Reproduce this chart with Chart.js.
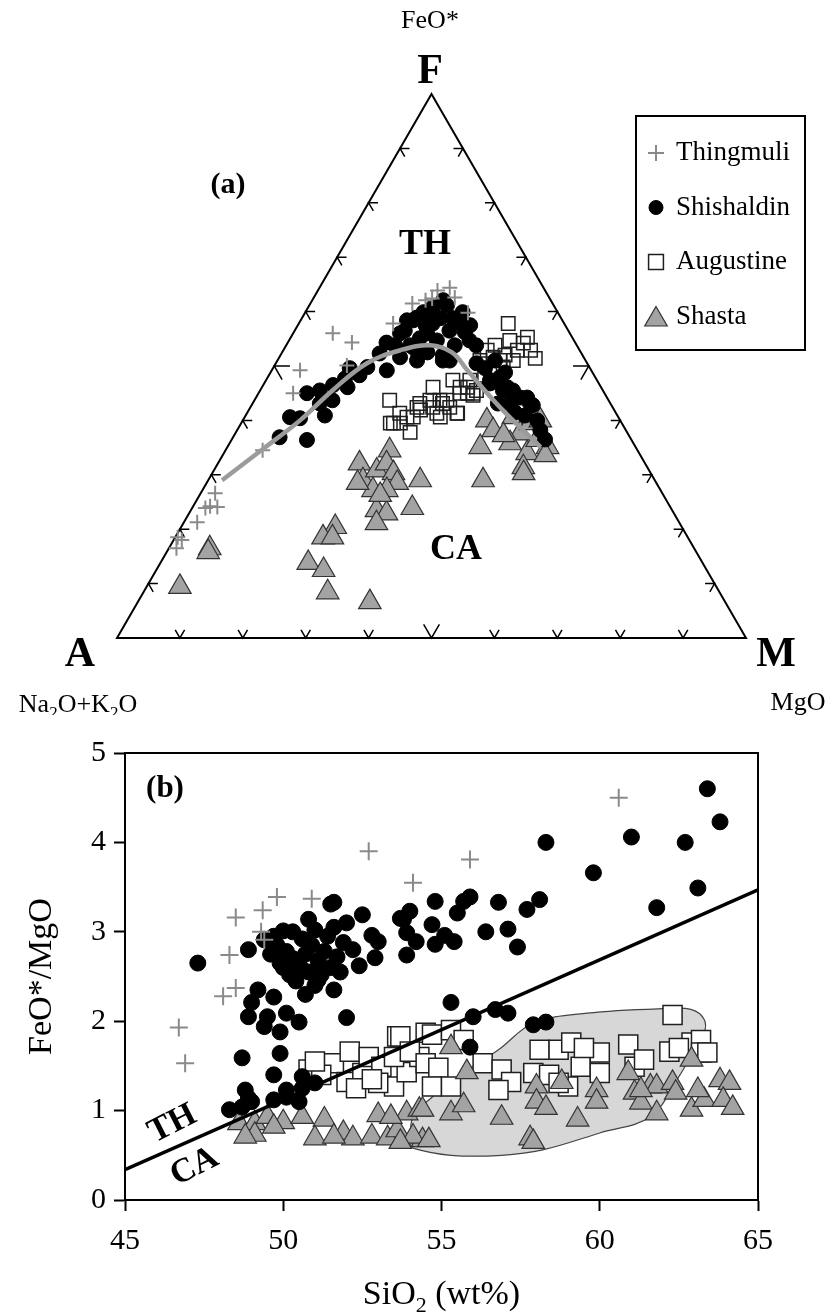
<!DOCTYPE html>
<html>
<head>
<meta charset="utf-8">
<script src="https://cdn.jsdelivr.net/npm/chart.js@4.4.0/dist/chart.umd.min.js"></script>
<style>
  html, body { margin: 0; padding: 0; background: #fff; }
  #wrap { position: relative; width: 836px; height: 1313px; }
  #afm-box { position: absolute; left: 0; top: 0; width: 836px; height: 715px; }
  #ratio-box { position: absolute; left: 0; top: 715px; width: 836px; height: 598px; }
</style>
</head>
<body>
<div id="wrap">
  <div id="afm-box"><canvas id="afm"></canvas></div>
  <div id="ratio-box"><canvas id="ratio"></canvas></div>
</div>
<script>
// (a) AFM compositions as [FeO*, MgO] in percent, Na2O+K2O is the remainder
const afmThingmuli = [
  [61.5,16.2],[62.4,18.9],[63.9,19.0],[64.4,20.7],[62.6,22.4],[59.8,25.9],[57.8,15.0],[56.0,6.3],
  [54.3,10.2],[49.2,4.5],[50.1,11.5],[45.0,5.5],[34.5,5.9],[26.6,2.3],[23.9,2.1],[24.2,2.7],
  [24.1,3.9],[21.3,2.1],[18.5,0.4],[18.0,1.3],[16.5,1.2],[62.1,18.0]
];
const afmShishaldin = [
  [36.9,7.4],[36.4,12.0],[40.6,7.2],[45.0,7.7],[45.5,9.5],[46.5,11.1],[43.1,10.7],[43.7,12.4],
  [40.9,12.6],[46.1,13.6],[49.6,12.2],[49.8,14.9],[52.3,15.6],[49.2,18.3],[54.3,15.7],[56.0,17.0],
  [58.4,16.9],[58.9,18.2],[51.0,22.2],[51.6,19.2],[53.4,20.4],[56.0,21.3],[57.8,21.3],[60.8,19.8],
  [62.1,20.8],[51.0,26.3],[40.4,8.9],[47.7,12.4],[48.3,14.4],[53.8,17.3],
  [56.5,17.5],[58.4,17.9],[59.9,18.8],[61.1,21.9],[58.8,24.0],[58.0,25.5],[56.2,27.2],[54.7,28.7],
  [53.8,19.7],[52.0,21.9],[52.5,23.1],[52.0,25.8],[51.0,27.4],[53.8,26.8],[54.7,23.5],[57.5,20.3],
  [58.8,22.0],[56.5,24.6],[59.3,20.1],[55.1,20.6],[59.9,25.0],[57.5,27.4],[53.8,30.2],
  [50.5,31.9],[47.4,35.6],[47.9,36.9],[45.5,38.6],[45.5,40.2],[44.2,41.5],[43.1,40.9],[44.2,43.1],
  [43.1,44.1],[43.1,39.0],[46.8,35.9],[46.1,39.0],[44.2,42.0],[42.8,44.7],[40.0,46.8],[40.9,44.4],
  [38.2,48.2],[41.5,42.5],[49.6,33.7],[51.0,34.6],[48.8,37.3],[36.5,49.8]
];
const afmAugustine = [
  [57.8,33.3],[55.3,37.6],[54.2,37.5],[51.4,40.8],[52.9,37.2],[51.0,37.5],[52.9,32.4],[51.6,34.0],
  [51.0,35.4],[49.8,36.5],[51.0,32.2],[45.5,34.4],[44.6,34.3],[45.0,33.2],[46.1,27.2],[46.1,31.5],
  [43.7,29.5],[42.4,29.0],[42.4,31.7],[41.3,33.5],[41.9,27.3],[40.6,26.8],[40.6,25.8],[39.5,25.3],
  [37.8,27.7],[40.6,31.1],[43.7,21.5],[39.5,24.2],[43.1,26.6],[43.1,30.2],[39.5,23.7],[41.3,24.3],
  [42.4,26.5],[43.7,27.9],[41.3,30.2],[43.7,30.6],[41.3,33.4],[45.0,32.0],[47.4,29.7],[46.1,32.7],
  [45.0,34.1],[54.7,35.1],[52.9,39.3],[53.8,33.2],[52.0,35.7],[48.3,34.3],[47.4,32.4]
];
const afmShasta = [
  [40.0,38.8],[38.2,40.7],[35.1,40.2],[40.6,42.7],[37.6,45.3],[39.5,46.0],[40.0,47.3],[35.1,50.9],
  [34.0,48.2],[31.4,48.9],[30.3,49.5],[35.8,44.6],[29.0,43.7],[36.4,48.6],[33.6,51.3],[37.3,42.8],
  [34.5,26.1],[32.1,22.5],[29.0,24.6],[30.8,25.9],[32.1,26.8],[30.3,28.8],[28.5,30.3],[27.2,29.3],
  [27.2,27.1],[23.5,29.5],[22.9,31.4],[21.1,30.7],[29.0,33.7],[23.9,35.0],[28.5,24.0],[26.3,28.7],
  [20.4,24.5],[18.5,23.5],[18.5,25.0],[13.8,23.5],[12.5,26.6],[8.4,29.3],[6.6,36.9],
  [16.5,6.5],[15.8,6.6],[9.4,5.3]
];
// tholeiitic / calc-alkaline boundary curve on the AFM plot
const afmBoundary = [
  [29.0,2.2],[34.7,5.8],[40.0,9.1],[45.5,11.5],[50.5,14.5],[52.9,18.6],[53.8,22.9],[52.5,27.0],
  [49.2,31.1],[42.4,39.7],[35.1,49.8]
];

// (b) [SiO2 wt%, FeO*/MgO]
const sioThingmuli = [
  [52.7,3.90],[54.1,3.55],[49.8,3.39],[50.9,3.37],[49.35,3.24],[48.5,3.16],[49.3,3.00],[49.4,2.91],
  [48.3,2.74],[60.6,4.50],[55.9,3.81],[48.5,2.37],[48.1,2.28],[46.7,1.93],[46.9,1.53]
];
const sioShishaldin = [
  [47.3,2.65],[48.9,2.80],[50.0,3.01],[50.8,3.14],[51.5,3.31],[51.6,3.33],[52.5,3.19],[52.0,3.10],
  [52.8,2.96],[53.0,2.89],[52.9,2.71],[53.7,3.15],[54.0,3.23],[53.9,2.99],[54.2,2.89],[53.9,2.74],
  [49.4,2.91],[49.7,2.95],
  [58.3,4.00],[59.8,3.66],[61.0,4.06],[63.4,4.60],[63.8,4.23],[62.7,4.00],[63.1,3.49],[61.8,3.27],
  [58.1,3.36],[57.7,3.25],[56.8,3.33],[55.9,3.39],[55.7,3.34],[55.5,3.21],[54.8,3.34],[54.7,3.08],
  [53.8,3.14],[54.8,2.86],[55.1,2.96],[55.4,2.89],[56.4,3.00],[57.1,3.03],[57.4,2.83],
  [49.8,2.85],[50.1,2.78],[50.3,2.70],[50.5,2.62],[50.7,2.75],[50.9,2.85],[51.1,2.68],[51.3,2.78],
  [51.5,2.60],[51.7,2.72],[51.9,2.88],[50.2,2.52],[50.4,2.45],[50.8,2.55],[51.0,2.40],[51.2,2.52],
  [51.4,2.95],[50.6,2.92],[51.8,2.55],[52.2,2.80],[50.0,2.60],[49.6,2.75],[50.3,3.00],[51.0,3.02],
  [51.6,3.05],[52.4,2.62],[50.7,2.30],
  [49.9,2.65],[50.6,2.58],[51.1,2.46],[51.6,2.35],[52.0,2.04],[49.2,2.35],[49.0,2.21],[48.9,2.05],
  [49.4,1.94],[49.9,1.88],[50.5,1.99],[50.1,2.09],[49.7,2.27],[49.5,2.05],[48.7,1.59],[49.9,1.64],
  [49.7,1.40],[50.6,1.38],[51.0,1.31],[48.8,1.23],[48.9,1.14],[48.3,1.01],[48.7,1.04],[49.7,1.12],
  [50.1,1.15],[50.5,1.10],[50.6,1.25],[50.1,1.23],[49.0,1.10],
  [55.3,2.21],[56.0,2.05],[56.7,2.13],[57.1,2.09],[57.9,1.96],[58.3,1.99],[55.9,1.71]
];
const sioAugustine = [
  [50.8,1.46],[51.6,1.53],[52.1,1.66],[52.0,1.32],[52.5,1.42],[52.7,1.60],[53.1,1.49],[53.5,1.27],
  [53.6,1.83],[53.9,1.43],[54.3,1.60],[54.5,1.87],[53.5,1.60],[53.0,1.31],[53.7,1.83],[54.7,1.85],
  [55.3,1.90],[55.7,1.79],[54.0,1.66],[54.5,1.53],[54.9,1.48],[54.7,1.27],[55.3,1.27],[56.3,1.53],
  [56.9,1.46],[57.2,1.32],[56.8,1.23],[58.1,1.68],[58.7,1.68],[59.1,1.76],[57.9,1.42],[58.4,1.40],
  [59.0,1.27],[59.4,1.49],[60.0,1.65],[60.0,1.42],[60.9,1.74],[61.1,1.49],[61.4,1.57],[62.3,2.07],
  [62.2,1.66],[62.9,1.76],[63.2,1.79],[63.2,1.65],[63.4,1.65],[62.5,1.70],[58.7,1.31],[59.5,1.70],
  [51.2,1.40],[52.3,1.25],[51.0,1.55],[52.8,1.35]
];
const sioShasta = [
  [48.6,0.86],[49.1,0.86],[49.1,0.73],[49.5,0.93],[50.0,0.87],[50.6,0.93],[51.3,0.90],[51.0,0.69],
  [51.9,0.75],[52.2,0.69],[53.0,0.95],[52.8,0.71],[53.3,0.69],[53.9,0.97],[54.3,1.01],[53.6,0.78],
  [51.6,0.71],[48.8,0.71],[49.7,0.82],[53.4,0.93],[54.4,0.67],[54.1,0.71],[53.7,0.65],
  [55.3,1.71],[55.8,1.43],[54.4,1.01],[54.6,0.67],[55.3,0.97],[55.7,1.06],[56.9,0.92],[58.0,1.27],
  [58.0,1.10],[58.3,1.03],[57.8,0.69],[57.9,0.65],[58.8,1.32],[59.3,0.90],[59.9,1.23],[59.9,1.10],
  [60.9,1.42],[61.1,1.20],[61.3,1.09],[61.6,1.27],[61.8,1.27],[61.8,0.97],[62.3,1.31],[62.4,1.20],
  [62.9,1.57],[62.9,1.01],[63.3,1.12],[63.8,1.34],[64.1,1.31],[63.9,1.12],[64.2,1.03],[61.3,1.23],
  [63.1,1.23]
];
// shaded field outline (closed)
const shastaField = [
  [54.0,0.64],[54.1,0.93],[54.7,1.15],[55.6,1.40],[56.8,1.68],[57.9,1.98],[59.6,2.09],[62.0,2.14],
  [62.9,2.13],[63.3,2.02],[63.3,1.87],[62.9,1.62],[62.5,1.38],[61.6,0.93],[60.0,0.75],[58.2,0.56],
  [56.9,0.50],[55.3,0.50],[54.1,0.58],[54.0,0.64]
];
// TH / CA dividing line
const thCaLine = [[45, 0.34], [65, 3.47]];

const xTicks = [45, 50, 55, 60, 65];
const yTicks = [0, 1, 2, 3, 4, 5];
const seriesNames = ['Thingmuli', 'Shishaldin', 'Augustine', 'Shasta'];

const SIN60 = Math.sqrt(3) / 2;
const serif = '"Liberation Serif", "Times New Roman", serif';

const marks = {
  Thingmuli: { pointStyle: 'cross', borderColor: '#8a8a8a', backgroundColor: '#8a8a8a', borderWidth: 2 },
  Shishaldin: { pointStyle: 'circle', borderColor: '#000', backgroundColor: '#000', borderWidth: 1 },
  Augustine: { pointStyle: 'rect', borderColor: '#1f1f1f', backgroundColor: '#fff', borderWidth: 1.5 },
  Shasta: { pointStyle: 'triangle', borderColor: '#333', backgroundColor: '#a3a3a3', borderWidth: 1.2 }
};

function toXY(p) { return { x: (p[1] + p[0] / 2) / 100, y: p[0] / 100 * SIN60 }; }
function toPt(p) { return { x: p[0], y: p[1] }; }

function pointSet(name, data, radius, extra) {
  const m = marks[name];
  return Object.assign({
    label: name,
    data: data,
    pointStyle: m.pointStyle,
    pointRadius: radius,
    pointBorderColor: m.borderColor,
    pointBackgroundColor: m.backgroundColor,
    pointBorderWidth: m.borderWidth,
    showLine: false,
    clip: false
  }, extra || {});
}

function text(ctx, str, x, y, font, align) {
  ctx.font = font;
  ctx.fillStyle = '#000';
  ctx.textAlign = align || 'center';
  ctx.textBaseline = 'middle';
  ctx.fillText(str, x, y);
}

// draws text with subscript parts, centred on cx, baseline at by
function subText(ctx, parts, cx, by, size) {
  const base = size + 'px ' + serif;
  const small = Math.round(size * 0.66) + 'px ' + serif;
  let w = 0;
  parts.forEach(p => { ctx.font = p[1] ? small : base; w += ctx.measureText(p[0]).width; });
  let x = cx - w / 2;
  ctx.fillStyle = '#000';
  ctx.textAlign = 'left';
  ctx.textBaseline = 'alphabetic';
  parts.forEach(p => {
    ctx.font = p[1] ? small : base;
    ctx.fillText(p[0], x, by + (p[1] ? size * 0.24 : 0));
    x += ctx.measureText(p[0]).width;
  });
}

function drawMark(ctx, name, radius, x, y) {
  const m = marks[name];
  ctx.save();
  ctx.fillStyle = m.backgroundColor;
  ctx.strokeStyle = m.borderColor;
  ctx.lineWidth = m.borderWidth;
  Chart.helpers.drawPoint(ctx, { pointStyle: m.pointStyle, radius: radius, rotation: 0, borderWidth: m.borderWidth }, x, y);
  ctx.restore();
}

// triangle outline with chevron ticks every 10 %
const afmFrame = {
  id: 'afmFrame',
  beforeDatasetsDraw(chart) {
    const { ctx, scales: { x, y } } = chart;
    const P = (u, v) => [x.getPixelForValue(u), y.getPixelForValue(v)];
    ctx.save();
    ctx.strokeStyle = '#000';
    ctx.lineWidth = 2;
    ctx.beginPath();
    ctx.moveTo(...P(0, 0));
    ctx.lineTo(...P(1, 0));
    ctx.lineTo(...P(0.5, SIN60));
    ctx.closePath();
    ctx.stroke();

    ctx.lineWidth = 1.5;
    const chevron = (u, v, d1, d2, len) => {
      ctx.beginPath();
      ctx.moveTo(...P(u + d1[0] * len, v + d1[1] * len));
      ctx.lineTo(...P(u, v));
      ctx.lineTo(...P(u + d2[0] * len, v + d2[1] * len));
      ctx.stroke();
    };
    for (let i = 1; i < 10; i++) {
      const t = i / 10;
      const len = i === 5 ? 0.025 : 0.015;
      chevron(t, 0, [-0.5, SIN60], [0.5, SIN60], len);
      chevron(t / 2, t * SIN60, [1, 0], [0.5, -SIN60], len);
      chevron(1 - t / 2, t * SIN60, [-1, 0], [-0.5, -SIN60], len);
    }
    ctx.restore();
  },
  afterDraw(chart) {
    const { ctx } = chart;
    ctx.save();
    text(ctx, 'FeO*', 430, 21, '26px ' + serif);
    text(ctx, 'F', 430, 72, 'bold 42px ' + serif);
    text(ctx, 'A', 80, 655, 'bold 42px ' + serif);
    text(ctx, 'M', 776, 655, 'bold 42px ' + serif);
    subText(ctx, [['Na'], ['2', true], ['O+K'], ['2', true], ['O']], 78, 712, 26);
    text(ctx, 'MgO', 798, 703, '26px ' + serif);
    text(ctx, '(a)', 228, 185, 'bold 30px ' + serif);
    text(ctx, 'TH', 425, 245, 'bold 36px ' + serif);
    text(ctx, 'CA', 456, 550, 'bold 36px ' + serif);

    // legend box
    ctx.strokeStyle = '#000';
    ctx.lineWidth = 2;
    ctx.strokeRect(636, 116, 169, 234);
    const sizes = { Thingmuli: 8, Shishaldin: 7, Augustine: 10.5, Shasta: 13 };
    seriesNames.forEach((name, i) => {
      const cy = 153 + i * 54.5;
      drawMark(ctx, name, sizes[name], 656, name === 'Shasta' ? cy + 3 : cy);
      text(ctx, name, 676, cy, '27px ' + serif, 'left');
    });
    ctx.restore();
  }
};

new Chart(document.getElementById('afm'), {
  type: 'scatter',
  data: {
    datasets: [
      { type: 'line', label: 'boundary', data: afmBoundary.map(toXY), borderColor: '#9b9b9b', borderWidth: 4.5,
        tension: 0.4, pointRadius: 0, fill: false, order: 0, clip: false },
      pointSet('Thingmuli', afmThingmuli.map(toXY), 7.5, { order: 1 }),
      pointSet('Shishaldin', afmShishaldin.map(toXY), 7.5, { order: 2 }),
      pointSet('Augustine', afmAugustine.map(toXY), 9.5, { order: 3, pointBackgroundColor: 'rgba(255,255,255,0)' }),
      pointSet('Shasta', afmShasta.map(toXY), 13, { order: 4 })
    ]
  },
  options: {
    responsive: true,
    maintainAspectRatio: false,
    animation: false,
    events: [],
    layout: { padding: { left: 117, right: 90, top: 94, bottom: 77 } },
    plugins: { legend: { display: false }, tooltip: { enabled: false } },
    scales: {
      x: { type: 'linear', min: 0, max: 1, display: false },
      y: { type: 'linear', min: 0, max: SIN60, display: false }
    }
  },
  plugins: [afmFrame]
});

// top/right frame plus panel labels for the ratio plot
const ratioFrame = {
  id: 'ratioFrame',
  afterDraw(chart) {
    const { ctx, chartArea: a, scales: { x, y } } = chart;
    ctx.save();
    ctx.strokeStyle = '#000';
    ctx.lineWidth = 2;
    ctx.beginPath();
    ctx.moveTo(a.left, a.top);
    ctx.lineTo(a.right, a.top);
    ctx.lineTo(a.right, a.bottom);
    ctx.stroke();
    text(ctx, '(b)', 165, 74, 'bold 31px ' + serif);
    const slanted = (str, u, v) => {
      ctx.save();
      ctx.translate(x.getPixelForValue(u), y.getPixelForValue(v));
      ctx.rotate(-0.47);
      text(ctx, str, 0, 0, 'bold 34px ' + serif);
      ctx.restore();
    };
    slanted('TH', 46.5, 0.85);
    slanted('CA', 47.2, 0.37);
    subText(ctx, [['SiO'], ['2', true], [' (wt%)']], (a.left + a.right) / 2, 589, 34);
    ctx.restore();
  }
};

const tickFont = { family: serif, size: 30 };

new Chart(document.getElementById('ratio'), {
  type: 'scatter',
  data: {
    datasets: [
      pointSet('Thingmuli', sioThingmuli.map(toPt), 9, { order: 0 }),
      pointSet('Shishaldin', sioShishaldin.map(toPt), 8, { order: 1 }),
      { type: 'line', label: 'TH-CA', data: thCaLine.map(toPt), borderColor: '#000', borderWidth: 3.5,
        pointRadius: 0, fill: false, order: 2 },
      pointSet('Shasta', sioShasta.map(toPt), 13, { order: 3 }),
      pointSet('Augustine', sioAugustine.map(toPt), 13.5, { order: 4 }),
      { type: 'line', label: 'field', data: shastaField.map(toPt), fill: 'shape', backgroundColor: '#d7d7d7',
        borderColor: '#444', borderWidth: 1.2, tension: 0.35, pointRadius: 0, order: 5 }
    ]
  },
  options: {
    responsive: true,
    maintainAspectRatio: false,
    animation: false,
    events: [],
    layout: { padding: { left: 0, right: 78, top: 38, bottom: 0 } },
    plugins: { legend: { display: false }, tooltip: { enabled: false } },
    scales: {
      x: {
        type: 'linear', min: 45, max: 65,
        afterBuildTicks: s => { s.ticks = xTicks.map(v => ({ value: v })); },
        afterFit: s => { s.height = 113; },
        ticks: { font: tickFont, color: '#000', padding: 12, autoSkip: false, maxRotation: 0 },
        grid: { drawOnChartArea: false, tickLength: 11, tickColor: '#000', tickWidth: 2 },
        border: { display: true, color: '#000', width: 2 }
      },
      y: {
        type: 'linear', min: 0, max: 5,
        afterBuildTicks: s => { s.ticks = yTicks.map(v => ({ value: v })); },
        afterFit: s => { s.width = 125; },
        ticks: { font: tickFont, color: '#000', padding: 8, autoSkip: false },
        grid: { drawOnChartArea: false, tickLength: 11, tickColor: '#000', tickWidth: 2 },
        border: { display: true, color: '#000', width: 2 },
        title: { display: true, text: 'FeO*/MgO', font: { family: serif, size: 34 }, color: '#000', padding: { top: 22 } }
      }
    }
  },
  plugins: [ratioFrame]
});
</script>
</body>
</html>
